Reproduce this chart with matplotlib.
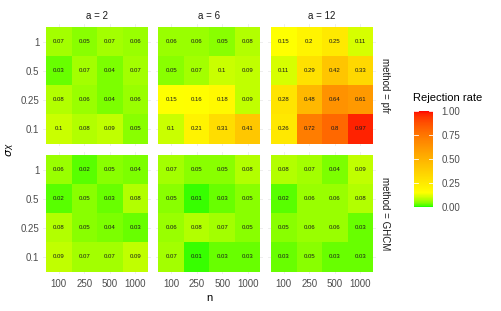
import numpy as np
import matplotlib
matplotlib.use("Agg")
import matplotlib.pyplot as plt
from matplotlib.colors import ListedColormap, Normalize
from matplotlib.cm import ScalarMappable

plt.rcParams['font.family'] = ['Liberation Sans', 'DejaVu Sans']

n_labels = ['100', '250', '500', '1000']
sigma_labels = ['0.1', '0.25', '0.5', '1']      # bottom to top
a_values = ['2', '6', '12']
methods = ['pfr', 'GHCM']

# rows listed top (sigma=1) to bottom (sigma=0.1), columns n = 100..1000
pfr_a2 = [[0.07, 0.05, 0.07, 0.06],
          [0.03, 0.07, 0.04, 0.07],
          [0.08, 0.06, 0.04, 0.06],
          [0.1, 0.08, 0.09, 0.05]]
pfr_a6 = [[0.06, 0.06, 0.05, 0.08],
          [0.05, 0.07, 0.1, 0.09],
          [0.15, 0.16, 0.18, 0.09],
          [0.1, 0.21, 0.31, 0.41]]
pfr_a12 = [[0.15, 0.2, 0.25, 0.11],
           [0.11, 0.29, 0.42, 0.33],
           [0.28, 0.48, 0.64, 0.61],
           [0.26, 0.72, 0.8, 0.97]]
ghcm_a2 = [[0.06, 0.02, 0.05, 0.04],
           [0.02, 0.05, 0.03, 0.08],
           [0.08, 0.05, 0.04, 0.03],
           [0.09, 0.07, 0.07, 0.09]]
ghcm_a6 = [[0.07, 0.05, 0.05, 0.08],
           [0.05, 0.01, 0.03, 0.05],
           [0.06, 0.08, 0.07, 0.05],
           [0.07, 0.01, 0.03, 0.03]]
ghcm_a12 = [[0.08, 0.07, 0.04, 0.09],
            [0.02, 0.06, 0.06, 0.08],
            [0.05, 0.06, 0.06, 0.03],
            [0.03, 0.05, 0.03, 0.03]]

grids = {('pfr', '2'): pfr_a2, ('pfr', '6'): pfr_a6, ('pfr', '12'): pfr_a12,
         ('GHCM', '2'): ghcm_a2, ('GHCM', '6'): ghcm_a6, ('GHCM', '12'): ghcm_a12}


# green -> yellow -> red, interpolated in Lab like ggplot
def srgb_to_lab(rgb):
    c = np.asarray(rgb, float)
    lin = np.where(c <= 0.04045, c / 12.92, ((c + 0.055) / 1.055) ** 2.4)
    M = np.array([[0.4124, 0.3576, 0.1805],
                  [0.2126, 0.7152, 0.0722],
                  [0.0193, 0.1192, 0.9505]])
    xyz = M @ lin / np.array([0.95047, 1.0, 1.08883])
    f = np.where(xyz > 0.008856, np.cbrt(xyz), 7.787 * xyz + 16 / 116)
    return np.array([116 * f[1] - 16, 500 * (f[0] - f[1]), 200 * (f[1] - f[2])])


def lab_to_srgb(lab):
    L, a, b = lab
    fy = (L + 16) / 116
    fx = fy + a / 500
    fz = fy - b / 200
    f = np.array([fx, fy, fz])
    xyz = np.where(f ** 3 > 0.008856, f ** 3, (f - 16 / 116) / 7.787)
    xyz = xyz * np.array([0.95047, 1.0, 1.08883])
    Minv = np.array([[3.2406, -1.5372, -0.4986],
                     [-0.9689, 1.8758, 0.0415],
                     [0.0557, -0.2040, 1.0570]])
    lin = np.clip(Minv @ xyz, 0, 1)
    c = np.where(lin <= 0.0031308, 12.92 * lin, 1.055 * lin ** (1 / 2.4) - 0.055)
    return np.clip(c, 0, 1)


stops = [0.0, 0.15, 1.0]
stop_cols = [(0, 1, 0), (1, 1, 0), (1, 0, 0)]
labs = [srgb_to_lab(c) for c in stop_cols]
cols = []
for t in np.linspace(0, 1, 256):
    i = 0 if t <= stops[1] else 1
    u = (t - stops[i]) / (stops[i + 1] - stops[i])
    cols.append(lab_to_srgb(labs[i] * (1 - u) + labs[i + 1] * u))
cmap = ListedColormap(cols)
norm = Normalize(0, 1)

W, H = 501, 311
fig = plt.figure(figsize=(W / 100, H / 100), dpi=100)

tile_left = [46, 158.5, 271]
tile_top = [27, 155]
tile_w, tile_h = 102, 116.5
ux, uy = tile_w / 4, tile_h / 4
tick_col = '#4d4d4d'

for r, m in enumerate(methods):
    for c, a in enumerate(a_values):
        left = tile_left[c] - 0.1 * ux
        top = tile_top[r] - 0.1 * uy
        ax = fig.add_axes([left / W, 1 - (top + 4.2 * uy) / H, 4.2 * ux / W, 4.2 * uy / H])
        z = np.array(grids[(m, a)])[::-1]
        ax.set_xlim(-0.6, 3.6)
        ax.set_ylim(-0.6, 3.6)
        for k in range(4):
            ax.axvline(k, color='#ebebeb', lw=0.6, zorder=0)
            ax.axhline(k, color='#ebebeb', lw=0.6, zorder=0)
        ax.pcolormesh(np.arange(5) - 0.5, np.arange(5) - 0.5, z, cmap=cmap, norm=norm, zorder=1)
        for i in range(4):
            for j in range(4):
                ax.text(j, i, f'{z[i, j]:g}', ha='center', va='center', fontsize=4.3, color='#1a1a1a', zorder=2)
        for s in ax.spines.values():
            s.set_visible(False)
        ax.tick_params(length=0, labelsize=7, labelcolor=tick_col, pad=3)
        ax.set_xticks(range(4))
        ax.set_yticks(range(4))
        if r == 1:
            ax.set_xticklabels(n_labels)
        else:
            ax.set_xticklabels([])
        if c == 0:
            ax.set_yticklabels(sigma_labels)
        else:
            ax.set_yticklabels([])
        if r == 0:
            ax.set_title(f'a = {a}', fontsize=7, color='#1a1a1a', pad=4)
        if c == 2:
            ax.text(1.04, 0.5, f'method = {m}', transform=ax.transAxes, rotation=-90,
                    ha='left', va='center', fontsize=7, color='#1a1a1a')

fig.text(209 / W, 1 - 298 / H, 'n', ha='center', va='center', fontsize=8)
fig.text(10 / W, 1 - 150 / H, r'$\sigma_X$', ha='center', va='center', fontsize=8, rotation=90)

# colour bar
cax = fig.add_axes([414 / W, 1 - 207 / H, 19 / W, 96 / H])
cb = fig.colorbar(ScalarMappable(norm=norm, cmap=cmap), cax=cax)
cb.outline.set_visible(False)
cb.set_ticks([0, 0.25, 0.5, 0.75, 1.0])
cb.set_ticklabels(['0.00', '0.25', '0.50', '0.75', '1.00'])
cax.tick_params(length=0, labelsize=7, labelcolor=tick_col, pad=6)
for v in [0, 0.25, 0.5, 0.75, 1.0]:
    cax.plot([0, 0.2], [v, v], color='white', lw=0.6, transform=cax.get_yaxis_transform())
    cax.plot([0.8, 1], [v, v], color='white', lw=0.6, transform=cax.get_yaxis_transform())
fig.text(413 / W, 1 - 98 / H, 'Rejection rate', ha='left', va='center', fontsize=8)

fig.savefig('out.png', dpi=100)
